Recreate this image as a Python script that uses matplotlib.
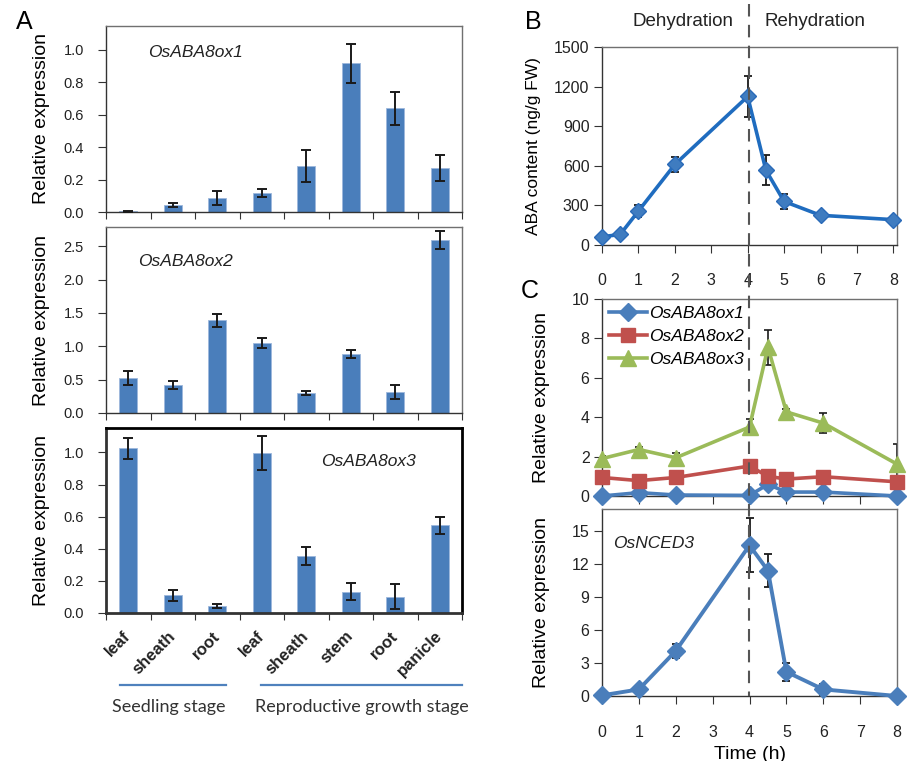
import matplotlib
matplotlib.use('Agg')
import matplotlib.pyplot as plt
import matplotlib.transforms as mtransforms
from matplotlib.lines import Line2D
import numpy as np

plt.rcParams['font.family'] = ['Liberation Sans', 'DejaVu Sans']

# panel A: tissue expression
tissues = ['leaf', 'sheath', 'root', 'leaf', 'sheath', 'stem', 'root', 'panicle']
ox1_tissue = [0.005, 0.043, 0.086, 0.12, 0.284, 0.918, 0.64, 0.27]
ox1_tissue_err = [0.003, 0.015, 0.045, 0.025, 0.10, 0.12, 0.10, 0.08]
ox2_tissue = [0.526, 0.42, 1.39, 1.05, 0.305, 0.887, 0.316, 2.60]
ox2_tissue_err = [0.11, 0.055, 0.10, 0.08, 0.03, 0.065, 0.11, 0.135]
ox3_tissue = [1.025, 0.11, 0.041, 0.996, 0.356, 0.133, 0.10, 0.545]
ox3_tissue_err = [0.065, 0.035, 0.012, 0.105, 0.055, 0.055, 0.078, 0.052]

# panel B: ABA content
time_aba = [0, 0.5, 1, 2, 4, 4.5, 5, 6, 8]
aba = [62, 80, 257, 610, 1125, 567, 330, 225, 192]
aba_err = [8, 10, 43, 60, 155, 115, 57, 15, 10]

# panel C: expression over time
time_h = [0, 1, 2, 4, 4.5, 5, 6, 8]
ox1_time = [0.0, 0.17, 0.05, 0.03, 0.59, 0.2, 0.2, 0.0]
ox1_time_err = [0.02, 0.05, 0.03, 0.02, 0.1, 0.05, 0.05, 0.02]
ox2_time = [0.94, 0.78, 0.94, 1.52, 1.0, 0.86, 0.98, 0.72]
ox2_time_err = [0.1, 0.1, 0.1, 0.15, 0.1, 0.1, 0.1, 0.1]
ox3_time = [1.9, 2.36, 1.94, 3.5, 7.55, 4.27, 3.7, 1.62]
ox3_time_err = [0.15, 0.15, 0.25, 0.4, 0.9, 0.15, 0.5, 1.0]
nced3 = [0.06, 0.6, 4.1, 13.7, 11.4, 2.2, 0.6, 0.0]
nced3_err = [0.05, 0.2, 0.6, 2.45, 1.5, 0.8, 0.5, 0.05]

W, H = 911, 761
fig = plt.figure(figsize=(W / 100, H / 100), dpi=100)


def px_axes(left, top, right, bottom):
    return fig.add_axes([left / W, 1 - bottom / H, (right - left) / W, (bottom - top) / H])


bar_color = '#4a7ebb'
gray = '#707070'


def bar_panel(ax, vals, errs, ymax, yticks, gene, gx, gy, thick=False):
    x = np.arange(len(vals))
    ax.bar(x, vals, width=0.41, color=bar_color, edgecolor='#9db8dc', linewidth=0.6, zorder=2)
    ax.errorbar(x, vals, yerr=errs, fmt='none', ecolor='#1a1a1a', elinewidth=1.4,
                capsize=3.5, capthick=1.4, zorder=3)
    ax.set_xlim(-0.5, 7.5)
    ax.set_ylim(0, ymax)
    ax.set_yticks(yticks)
    ax.set_yticklabels(['%.1f' % v for v in yticks])
    ax.set_xticks(np.arange(-0.5, 8, 1))
    ax.set_xticklabels([])
    ax.tick_params(axis='x', direction='out', length=5, color='#333333')
    ax.tick_params(axis='y', direction='out', length=6, pad=10, labelsize=10.5,
                   labelcolor='#222222', color='#333333')
    for s in ax.spines.values():
        if thick:
            s.set_color('black')
            s.set_linewidth(2)
        else:
            s.set_color(gray)
            s.set_linewidth(1)
    ax.spines['left'].set_color('#333333')
    ax.spines['bottom'].set_color('#333333')
    ax.set_ylabel('Relative expression', fontsize=14)
    ax.yaxis.set_label_coords(-0.157, 0.5)
    ax.text(gx, gy, gene, transform=ax.transAxes, fontsize=12.5, style='italic',
            color='#222222', va='center', ha='left')


axA1 = px_axes(106, 26, 462, 212)
axA2 = px_axes(106, 227, 462, 413)
axA3 = px_axes(106, 428, 462, 613)

bar_panel(axA1, ox1_tissue, ox1_tissue_err, 1.148, np.arange(0, 1.01, 0.2), 'OsABA8ox1', 0.118, 0.86)
bar_panel(axA2, ox2_tissue, ox2_tissue_err, 2.79, np.arange(0, 2.51, 0.5), 'OsABA8ox2', 0.09, 0.816)
bar_panel(axA3, ox3_tissue, ox3_tissue_err, 1.152, np.arange(0, 1.01, 0.2), 'OsABA8ox3', 0.605, 0.82, thick=True)

axA3.set_xticks(np.arange(len(tissues)), minor=True)
axA3.set_xticklabels(tissues, minor=True, rotation=45, ha='right', va='center',
                     rotation_mode='anchor', fontsize=12, fontweight='bold', color='#222222')
axA3.tick_params(axis='x', which='minor', length=0, pad=15)

blend = mtransforms.blended_transform_factory(axA3.transData, axA3.transAxes)
stage_color = '#4f81bd'
axA3.add_line(Line2D([-0.19, 2.19], [-0.39, -0.39], transform=blend, color=stage_color,
                     lw=1.6, clip_on=False))
axA3.add_line(Line2D([2.975, 7.5], [-0.39, -0.39], transform=blend, color=stage_color,
                     lw=1.6, clip_on=False))
stage_font = ['Lato', 'DejaVu Sans']
axA3.text(0.91, -0.51, 'Seedling stage', transform=blend, ha='center', va='center',
          fontsize=13, family=stage_font, color='#333333')
axA3.text(5.26, -0.51, 'Reproductive growth stage', transform=blend, ha='center', va='center',
          fontsize=13, family=stage_font, color='#333333')


def style_time_axes(ax):
    for s in ax.spines.values():
        s.set_color(gray)
        s.set_linewidth(1)
    ax.spines['left'].set_color('#333333')
    ax.spines['bottom'].set_color('#333333')
    ax.set_xticks(range(0, 9))
    ax.tick_params(axis='both', direction='out', length=6, labelsize=11.5,
                   labelcolor='#222222', color='#333333')


# panel B
axB = px_axes(602, 47, 897, 245)
axB.errorbar(time_aba, aba, yerr=aba_err, fmt='none', ecolor='#1a1a1a', elinewidth=1.3,
             capsize=3, capthick=1.3, zorder=2)
axB.plot(time_aba, aba, color='#1f6cbf', lw=2.6, marker='D', ms=8, mfc='#3f7cc0',
         mec='#2a6ab8', clip_on=False, zorder=3)
axB.set_xlim(0, 8.1)
axB.set_ylim(0, 1500)
axB.set_yticks(range(0, 1501, 300))
style_time_axes(axB)
axB.tick_params(axis='x', pad=14)
axB.tick_params(axis='y', pad=3)
axB.set_ylabel('ABA content (ng/g FW)', fontsize=12.5)
axB.yaxis.set_label_coords(-0.207, 0.5)

# panel C top
axC1 = px_axes(602, 299, 897, 496)
series = [
    (ox1_time, ox1_time_err, '#4a7ebb', 'D', 9, 'OsABA8ox1'),
    (ox2_time, ox2_time_err, '#c0504d', 's', 10.5, 'OsABA8ox2'),
    (ox3_time, ox3_time_err, '#9bbb59', '^', 11.5, 'OsABA8ox3'),
]
for vals, errs, col, mk, ms, lab in series:
    axC1.errorbar(time_h, vals, yerr=errs, fmt='none', ecolor='#1a1a1a', elinewidth=1.2,
                  capsize=3, capthick=1.2, zorder=2)
    axC1.plot(time_h, vals, color=col, lw=2.6, marker=mk, ms=ms, mfc=col, mec=col,
              clip_on=False, zorder=3, label=lab)
axC1.set_xlim(0, 8)
axC1.set_ylim(0, 10)
axC1.set_yticks(range(0, 11, 2))
style_time_axes(axC1)
axC1.set_xticklabels([])
axC1.tick_params(axis='y', pad=3)
axC1.set_ylabel('Relative expression', fontsize=14)
axC1.yaxis.set_label_coords(-0.176, 0.5)
axC1.legend(loc='upper left', bbox_to_anchor=(0.0, 1.0), frameon=False, numpoints=1,
            handlelength=2.2, handletextpad=0.1, labelspacing=0.45, borderaxespad=0.1,
            borderpad=0.3, prop={'style': 'italic', 'size': 12.5})

# panel C bottom
axC2 = px_axes(602, 509, 897, 696)
axC2.errorbar(time_h, nced3, yerr=nced3_err, fmt='none', ecolor='#1a1a1a', elinewidth=1.3,
              capsize=3, capthick=1.3, zorder=2)
axC2.plot(time_h, nced3, color='#4a7ebb', lw=2.8, marker='D', ms=9, mfc='#4a7ebb',
          mec='#4a7ebb', clip_on=False, zorder=3)
axC2.set_xlim(0, 8)
axC2.set_ylim(0, 17)
axC2.set_yticks(range(0, 16, 3))
style_time_axes(axC2)
axC2.tick_params(axis='x', pad=15)
axC2.tick_params(axis='y', pad=3)
axC2.set_ylabel('Relative expression', fontsize=14)
axC2.yaxis.set_label_coords(-0.176, 0.5)
axC2.set_xlabel('Time (h)', fontsize=14)
axC2.text(0.037, 0.817, 'OsNCED3', transform=axC2.transAxes, fontsize=12.5,
          style='italic', color='#222222', va='center')

# dashed separator between dehydration and rehydration
fig.add_artist(Line2D([749 / W, 749 / W], [1 - 4 / H, 1 - 696 / H], transform=fig.transFigure,
                      color='#555555', lw=1.5, ls=(0, (6, 4)), zorder=5))

fig.text(683 / W, 1 - 21 / H, 'Dehydration', ha='center', va='center', fontsize=13.5, color='#222222')
fig.text(815 / W, 1 - 21 / H, 'Rehydration', ha='center', va='center', fontsize=13.5, color='#222222')

fig.text(24 / W, 1 - 22 / H, 'A', ha='center', va='center', fontsize=18)
fig.text(533 / W, 1 - 22 / H, 'B', ha='center', va='center', fontsize=18)
fig.text(530 / W, 1 - 291 / H, 'C', ha='center', va='center', fontsize=18)

fig.savefig('out.png', dpi=100)
plt.close(fig)
